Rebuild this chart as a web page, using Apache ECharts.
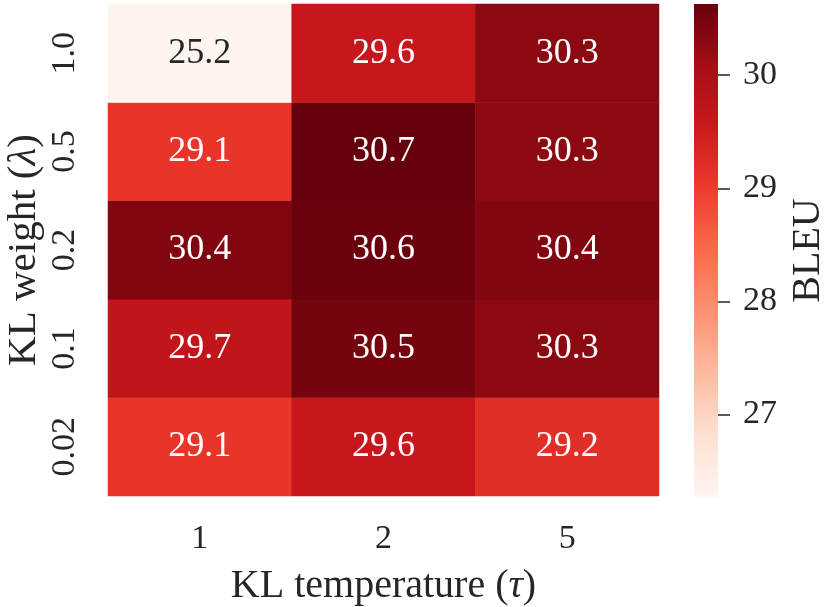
<!DOCTYPE html>
<html>
<head>
<meta charset="utf-8">
<script src="https://cdn.jsdelivr.net/npm/echarts@6/dist/echarts.min.js"></script>
<style>
html,body{margin:0;padding:0;background:#fff;}
#main{width:829px;height:607px;}
</style>
</head>
<body>
<div id="main"></div>
<script>
// KL temperature (x) / KL weight (y, bottom -> top)
var temps = ['1', '2', '5'];
var weights = ['0.02', '0.1', '0.2', '0.5', '1.0'];
// BLEU per weight row, columns follow temps
var bleu_002 = [29.1, 29.6, 29.2];
var bleu_01 = [29.7, 30.5, 30.3];
var bleu_02 = [30.4, 30.6, 30.4];
var bleu_05 = [29.1, 30.7, 30.3];
var bleu_10 = [25.2, 29.6, 30.3];
var cbarTicks = [27, 28, 29, 30];
var vmin = 26.27, vmax = 30.63;

// matplotlib "Reds"
var reds = ['#fff5f0','#fee0d2','#fcbba1','#fc9272','#fb6a4a','#ef3b2c','#cb181d','#a50f15','#67000d'];

function hex2rgb(h){
	return [parseInt(h.substr(1,2),16),parseInt(h.substr(3,2),16),parseInt(h.substr(5,2),16)];
}
function redsColor(v){
	var t = (v - vmin) / (vmax - vmin);
	if(t < 0) t = 0;
	if(t > 1) t = 1;
	var p = t * (reds.length - 1);
	var i = Math.min(Math.floor(p), reds.length - 2);
	var f = p - i;
	var a = hex2rgb(reds[i]), b = hex2rgb(reds[i+1]);
	var c = [0,1,2].map(function(k){ return Math.round(a[k] + (b[k]-a[k])*f); });
	return 'rgb(' + c.join(',') + ')';
}
// light cells get dark text
function isLight(v){
	return (v - vmin) / (vmax - vmin) < 0.45;
}

var font = 'Liberation Serif';
var ink = '#262626';

var rows = [bleu_002, bleu_01, bleu_02, bleu_05, bleu_10];
var cells = [];
rows.forEach(function(r, yi){
	r.forEach(function(v, xi){
		cells.push({
			value: [xi, yi, v],
			itemStyle: { color: redsColor(v) },
			label: { color: isLight(v) ? ink : '#ffffff', fontFamily: font, fontSize: 36 }
		});
	});
});

var stops = reds.map(function(c, i){ return { offset: i/(reds.length-1), color: c }; });

var chart = echarts.init(document.getElementById('main'));
var option = {
	backgroundColor: '#ffffff',
	animation: false,
	textStyle: { fontFamily: font },
	grid: [
		{ left: 108, top: 4, width: 551, height: 492, outerBoundsMode: 'none', containLabel: false },
		{ left: 694, top: 4, width: 24, height: 493, outerBoundsMode: 'none', containLabel: false }
	],
	xAxis: [{
		type: 'category',
		data: temps,
		gridIndex: 0,
		axisLine: { show: false },
		axisTick: { show: false },
		splitLine: { show: false },
		axisLabel: { color: ink, fontSize: 34, fontFamily: font, margin: 26 },
		name: 'KL temperature ({i|τ})',
		nameLocation: 'middle',
		nameGap: 70,
		nameMoveOverlap: false,
		nameTextStyle: {
			color: ink, fontSize: 40, fontFamily: font,
			rich: { i: { fontStyle: 'italic', fontSize: 40, fontFamily: font, color: ink } }
		}
	}, {
		type: 'category',
		gridIndex: 1,
		data: ['c'],
		show: false
	}],
	yAxis: [{
		type: 'category',
		data: weights,
		gridIndex: 0,
		axisLine: { show: false },
		axisTick: { show: false },
		splitLine: { show: false },
		axisLabel: { color: ink, fontSize: 34, fontFamily: font, rotate: 90, margin: 26 },
		name: 'KL weight ({i|λ})',
		nameLocation: 'middle',
		nameRotate: 90,
		nameGap: 63,
		nameMoveOverlap: false,
		nameTextStyle: {
			color: ink, fontSize: 41, fontFamily: font,
			rich: { i: { fontStyle: 'italic', fontSize: 41, fontFamily: font, color: ink } }
		}
	}, {
		type: 'value',
		gridIndex: 1,
		position: 'right',
		min: vmin,
		max: vmax,
		axisLine: { show: false },
		splitLine: { show: false },
		axisTick: { show: true, length: 12, customValues: cbarTicks, lineStyle: { color: ink, width: 1.5 } },
		axisLabel: { show: true, customValues: cbarTicks, color: ink, fontSize: 34, fontFamily: font, margin: 25 },
		name: 'BLEU',
		nameLocation: 'middle',
		nameRotate: 90,
		nameGap: 70,
		nameMoveOverlap: false,
		nameTextStyle: { color: ink, fontSize: 40, fontFamily: font }
	}],
	graphic: [{
		type: 'rect',
		left: 694,
		top: 4,
		shape: { width: 24, height: 493 },
		style: { fill: { type: 'linear', x: 0, y: 1, x2: 0, y2: 0, colorStops: stops } },
		z: 0
	}],
	series: [{
		type: 'heatmap',
		xAxisIndex: 0,
		yAxisIndex: 0,
		data: cells,
		label: {
			show: true,
			fontSize: 36,
			fontFamily: font,
			formatter: function(p){ return p.value[2].toFixed(1); }
		},
		emphasis: { disabled: true }
	}]
};
chart.setOption(option);
</script>
</body>
</html>
